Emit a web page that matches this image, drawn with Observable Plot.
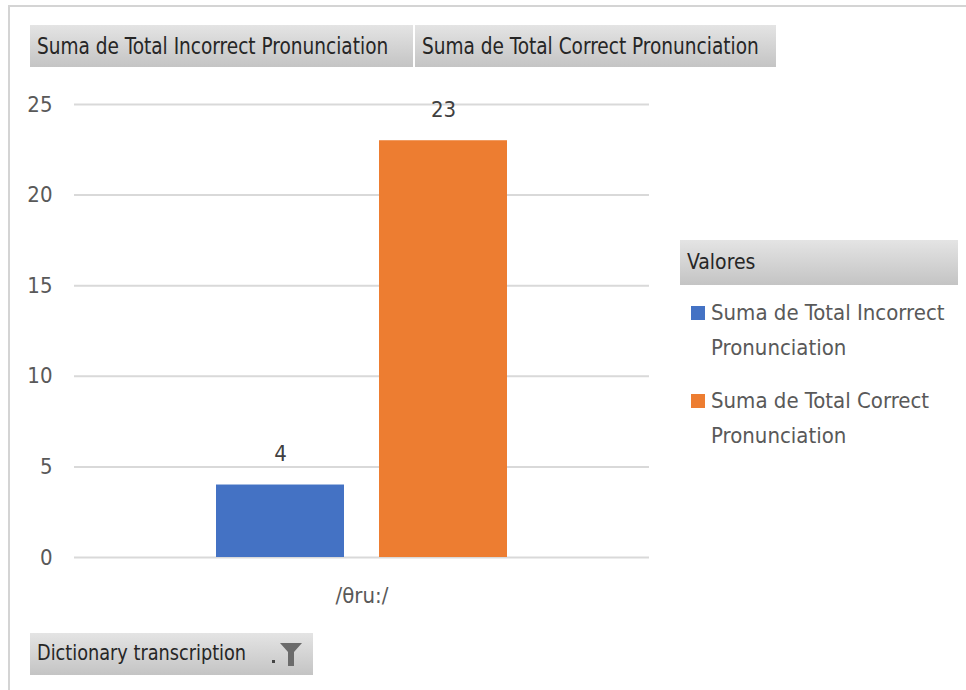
<!DOCTYPE html>
<html>
<head>
<meta charset="utf-8">
<script src="https://cdn.jsdelivr.net/npm/d3@7"></script>
<script src="https://cdn.jsdelivr.net/npm/@observablehq/plot@0.6"></script>
<style>
  html, body { margin: 0; padding: 0; background: #fff; }
  #wrap { position: relative; width: 966px; height: 690px; overflow: hidden; background: #fff;
          font-family: "Liberation Sans Narrow", "DejaVu Sans Condensed", "Arial Narrow", sans-serif; }
  #frame { position: absolute; left: 8px; top: 5px; width: 970px; height: 700px;
           border-top: 2px solid #d4d4d4; border-left: 2px solid #d4d4d4; }
  #chart { position: absolute; left: 0; top: 0; }
  .btn { position: absolute; height: 42px; line-height: 42px; box-sizing: border-box;
         background: linear-gradient(#e4e4e4, #c4c4c4); color: #262626; font-size: 20.6px;
         padding-left: 7px; white-space: nowrap; }
  .btn span.t { display: inline-block; transform: scaleY(1.12); transform-origin: 50% 55%; }
  #legend { position: absolute; left: 680px; top: 240px; width: 278px; }
  .lhead { height: 45px; line-height: 45px; background: linear-gradient(#e4e4e4, #c4c4c4);
           color: #262626; font-size: 21px; padding-left: 7px; }
  .item { position: relative; padding-left: 31px; margin-top: 10px; font-size: 22px; color: #595959; line-height: 35px; }
  .item + .item { margin-top: 18px; }
  .sw { position: absolute; left: 11px; top: 11px; width: 14px; height: 14px; }
</style>
</head>
<body>
<div id="wrap">
  <div id="frame"></div>
  <div id="chart"></div>
</div>
<script>
// ---- data ----
const seriesNames = ["Suma de Total Incorrect Pronunciation", "Suma de Total Correct Pronunciation"];
const seriesValues = [4, 23];
const categories = ["/θru:/"];
const seriesColors = ["#4472c4", "#ed7d31"];
const yTicks = [0, 5, 10, 15, 20, 25];
const legendTitle = "Valores";
const axisFieldLabel = "Dictionary transcription";

const rows = seriesNames.map((s, i) => ({ category: categories[0], series: s, value: seriesValues[i] }));
const FONT = '"Liberation Sans Narrow", "DejaVu Sans Condensed", "Arial Narrow", sans-serif';

const chart = Plot.plot({
  width: 966,
  height: 690,
  marginLeft: 74,
  marginRight: 317,
  marginTop: 104,
  marginBottom: 133,
  style: { fontFamily: FONT, fontSize: "22px", color: "#595959", background: "transparent", overflow: "visible" },
  fx: { domain: categories, padding: 0, axis: "bottom", label: null, tickSize: 0, tickPadding: 30 },
  x: { domain: seriesNames, paddingInner: 0.213, paddingOuter: 0.87, axis: null },
  y: { domain: [0, 25], ticks: yTicks, label: null, tickSize: 0, tickPadding: 22 },
  color: { domain: seriesNames, range: seriesColors },
  marks: [
    Plot.ruleY(yTicks, { stroke: "#d9d9d9", strokeWidth: 2 }),
    Plot.barY(rows, { fx: "category", x: "series", y: "value", fill: "series" }),
    Plot.text(rows, { fx: "category", x: "series", y: "value", text: d => String(d.value),
                      dy: -31, fill: "#404040", fontSize: 22 })
  ]
});
document.getElementById("chart").appendChild(chart);

const wrap = document.getElementById("wrap");
function textSpan(s) {
  const t = document.createElement("span");
  t.className = "t";
  t.textContent = s;
  return t;
}
// pivot field buttons (one per series) above the plot
const btnPos = [[30, 383], [415, 361]];
seriesNames.forEach((s, i) => {
  const b = document.createElement("div");
  b.className = "btn";
  b.style.left = btnPos[i][0] + "px";
  b.style.top = "25px";
  b.style.width = btnPos[i][1] + "px";
  b.appendChild(textSpan(s));
  wrap.appendChild(b);
});

// legend
const lg = document.createElement("div");
lg.id = "legend";
const head = document.createElement("div");
head.className = "lhead";
head.appendChild(textSpan(legendTitle));
lg.appendChild(head);
seriesNames.forEach((s, i) => {
  const it = document.createElement("div");
  it.className = "item";
  const sw = document.createElement("span");
  sw.className = "sw";
  sw.style.background = seriesColors[i];
  it.appendChild(sw);
  const words = s.split(" ");
  const t1 = document.createElement("div");
  t1.textContent = words.slice(0, -1).join(" ");
  const t2 = document.createElement("div");
  t2.textContent = words[words.length - 1];
  it.appendChild(t1); it.appendChild(t2);
  lg.appendChild(it);
});
wrap.appendChild(lg);

// axis field button at the bottom
const fb = document.createElement("div");
fb.className = "btn";
fb.style.left = "30px"; fb.style.top = "633px"; fb.style.width = "283px";
fb.style.fontSize = "19.7px";
fb.appendChild(textSpan(axisFieldLabel));
const icon = document.createElementNS("http://www.w3.org/2000/svg", "svg");
icon.setAttribute("width", "40"); icon.setAttribute("height", "30");
icon.style.position = "absolute"; icon.style.left = "240px"; icon.style.top = "7px";
icon.innerHTML = '<rect x="2" y="20" width="3" height="3" fill="#444"/>' +
  '<polygon points="10,3 32,3 24,12 24,26 18,26 18,12" fill="#6b6b6b"/>';
fb.appendChild(icon);
wrap.appendChild(fb);
</script>
</body>
</html>
